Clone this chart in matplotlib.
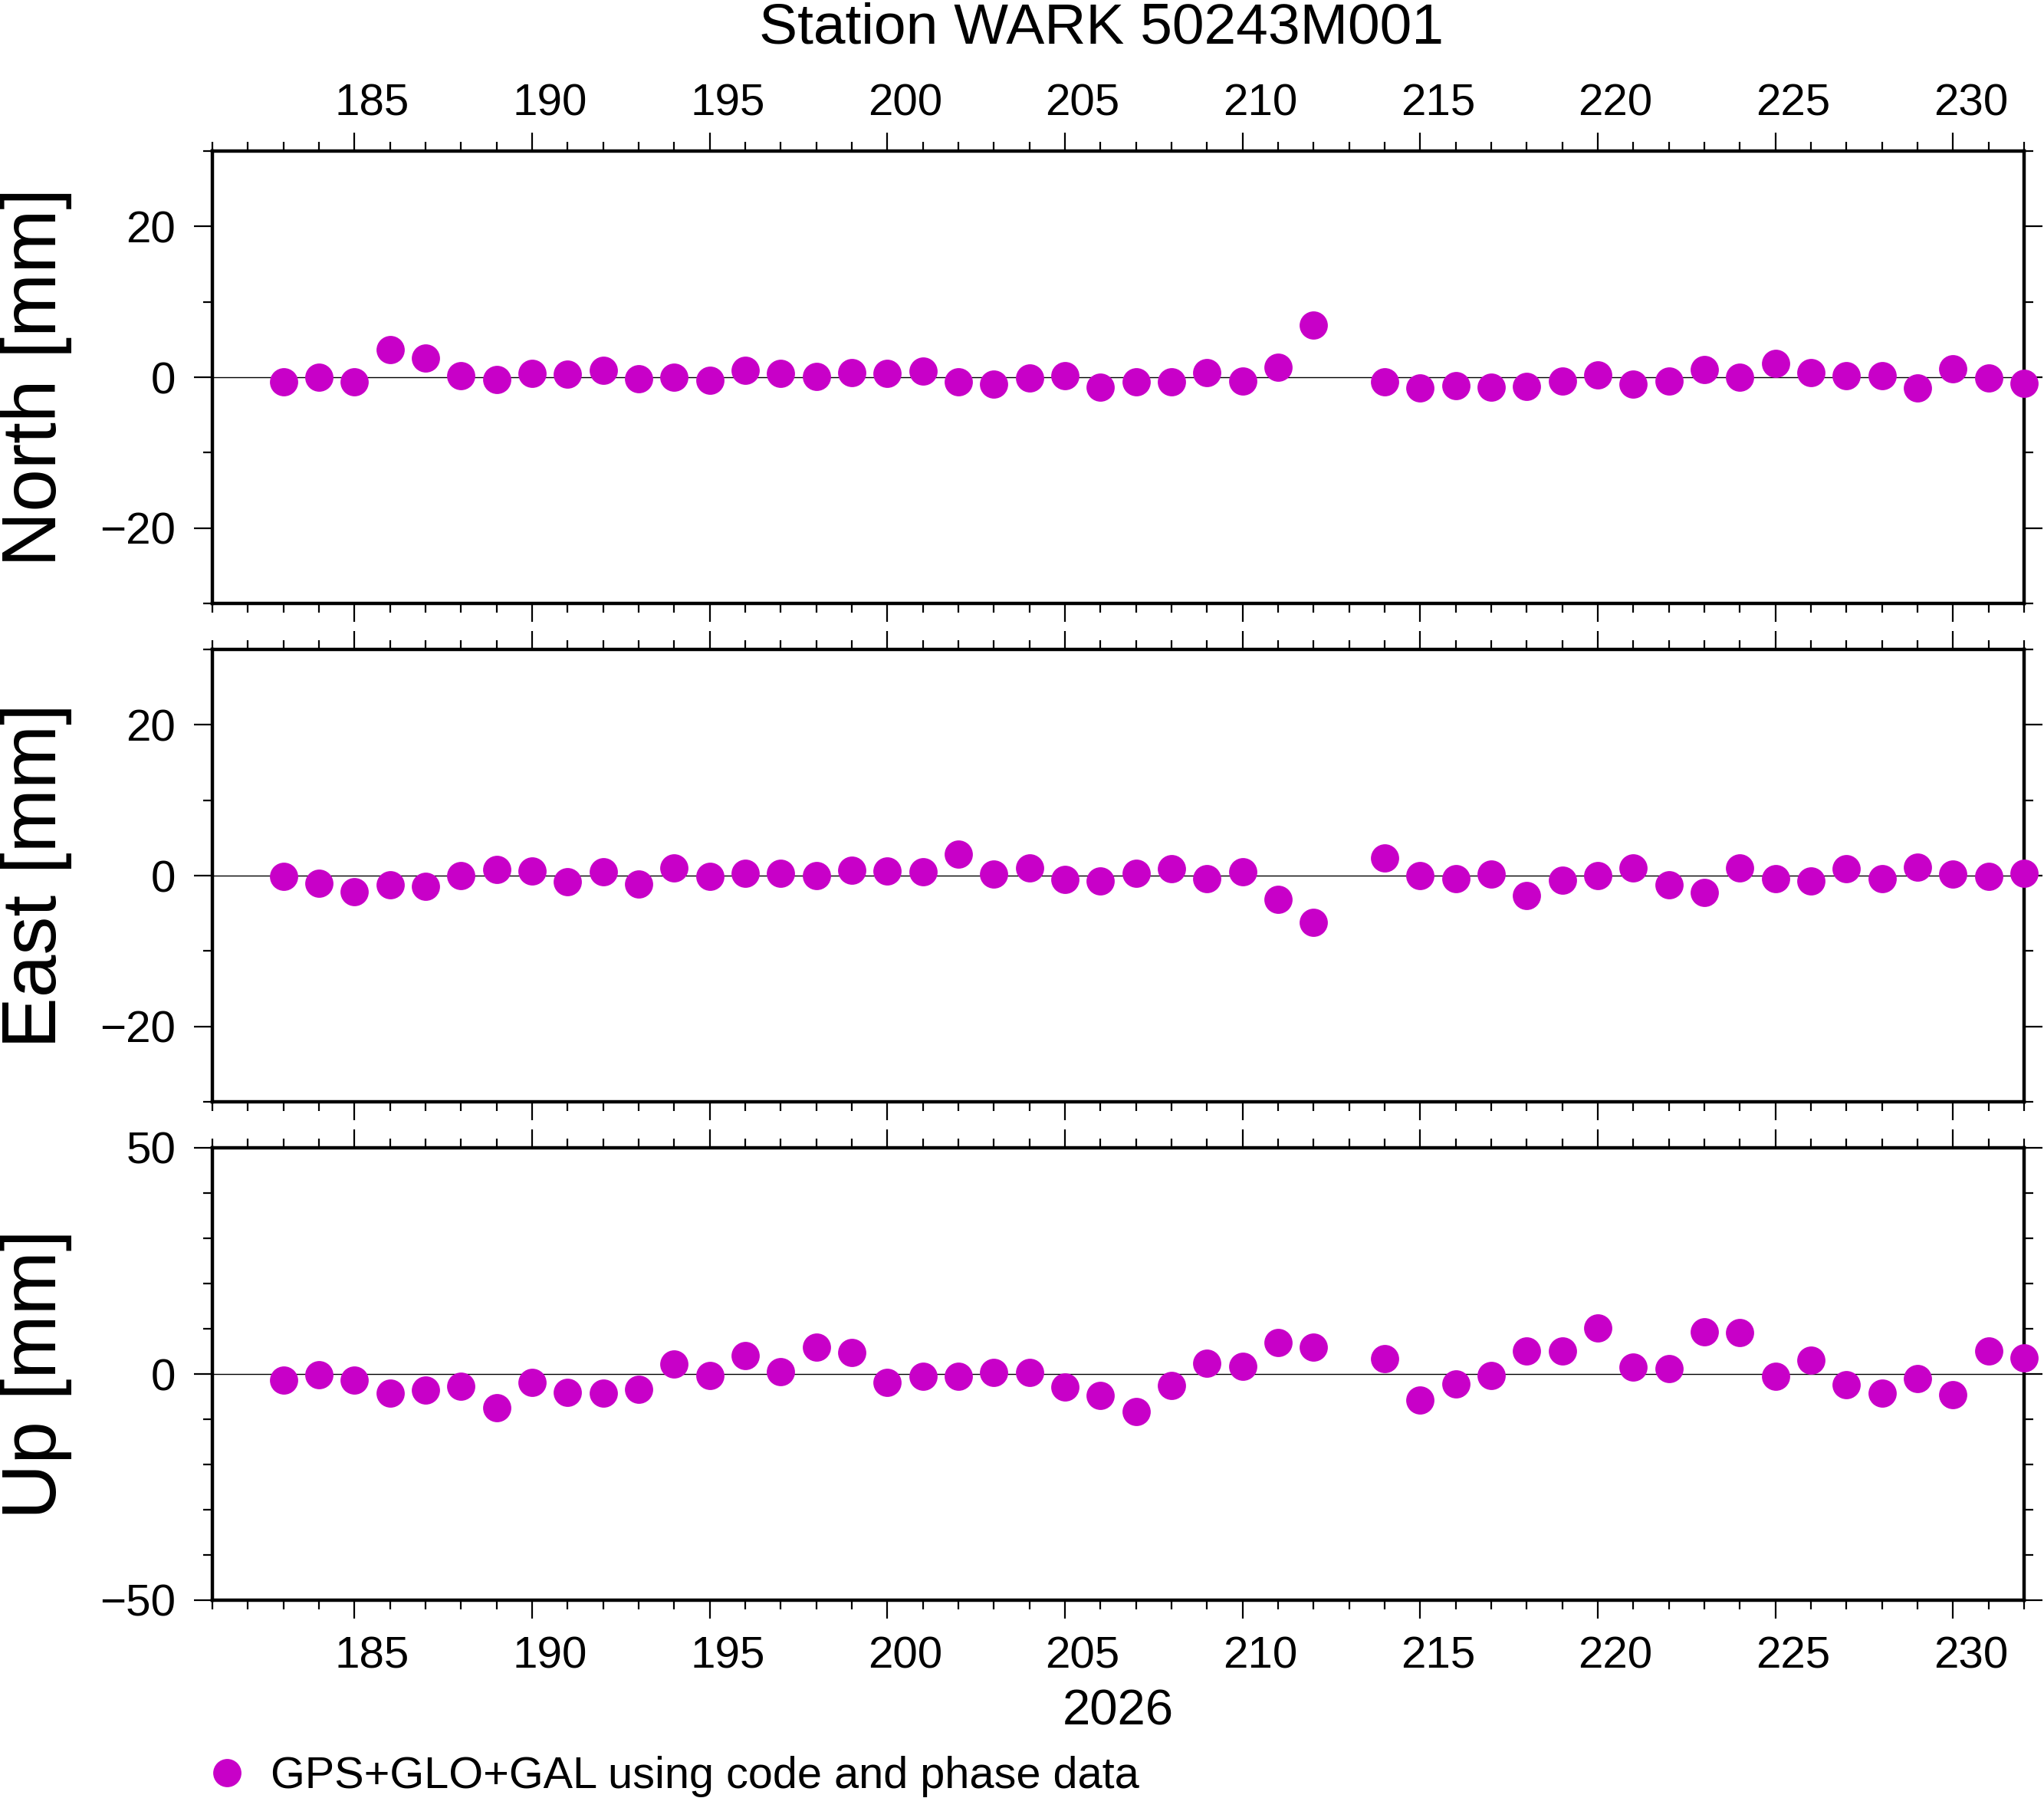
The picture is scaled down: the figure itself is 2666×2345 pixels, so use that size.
import matplotlib
matplotlib.use("Agg")
import matplotlib.pyplot as plt
from matplotlib.ticker import MultipleLocator
from matplotlib.transforms import ScaledTranslation

plt.rcParams['font.family'] = ['Liberation Sans', 'DejaVu Sans']

# day of year 2026 (day 213 missing)
doy = [183, 184, 185, 186, 187, 188, 189, 190, 191, 192,
       193, 194, 195, 196, 197, 198, 199, 200, 201, 202,
       203, 204, 205, 206, 207, 208, 209, 210, 211, 212,
       214, 215, 216, 217, 218, 219, 220, 221, 222, 223,
       224, 225, 226, 227, 228, 229, 230, 231, 232]

north = [-0.6, 0.0, -0.6, 3.7, 2.5, 0.2, -0.3, 0.5, 0.4, 0.9,
         -0.2, 0.0, -0.4, 0.9, 0.5, 0.1, 0.6, 0.5, 0.8, -0.6,
         -0.9, -0.1, 0.2, -1.3, -0.6, -0.6, 0.6, -0.5, 1.3, 6.9,
         -0.6, -1.4, -1.1, -1.3, -1.2, -0.5, 0.3, -0.9, -0.5, 1.0,
         0.0, 1.8, 0.6, 0.2, 0.2, -1.4, 1.1, -0.1, -0.8]

east = [-0.1, -1.0, -2.1, -1.2, -1.4, 0.0, 0.8, 0.6, -0.8, 0.5,
        -1.1, 1.0, -0.1, 0.3, 0.3, 0.0, 0.7, 0.6, 0.5, 2.8,
        0.2, 1.0, -0.5, -0.7, 0.3, 0.9, -0.4, 0.5, -3.2, -6.2,
        2.3, 0.0, -0.4, 0.2, -2.6, -0.6, 0.0, 1.0, -1.2, -2.2,
        1.0, -0.4, -0.7, 0.9, -0.4, 1.1, 0.2, -0.1, 0.3]

up = [-1.4, -0.2, -1.4, -4.2, -3.6, -2.7, -7.5, -1.9, -4.1, -4.2,
      -3.4, 2.2, -0.3, 4.1, 0.5, 5.9, 4.7, -1.9, -0.5, -0.5,
      0.3, 0.3, -2.9, -4.7, -8.3, -2.5, 2.4, 1.7, 6.9, 5.9,
      3.4, -5.8, -2.2, -0.3, 5.1, 5.1, 10.2, 1.5, 1.2, 9.3,
      9.2, -0.5, 3.1, -2.4, -4.2, -1.0, -4.6, 5.1, 3.6]

components = ["North [mm]", "East [mm]", "Up [mm]"]
ylimits = [30, 30, 50]
ymajor = [20, 20, 50]
title = "Station WARK 50243M001"
year_label = "2026"
legend_label = "GPS+GLO+GAL using code and phase data"

W, H = 2666, 2345
color = '#C800C8'

fig = plt.figure(figsize=(W / 100, H / 100), dpi=100)

left = 277 / W
width = (2640 - 277) / W
height = 590 / H
tops = [197, 847, 1497]

axes = []
for i, (comp, vals) in enumerate(zip(components, [north, east, up])):
    ax = fig.add_axes([left, 1 - (tops[i] + 590) / H, width, height])
    axes.append(ax)
    ax.set_xlim(181, 232)
    lim = ylimits[i]
    ax.set_ylim(-lim, lim)
    ax.axhline(0, color='black', lw=1.0, zorder=1)
    line, = ax.plot(doy, vals, 'o', color=color, ms=26.5, mew=0,
                    clip_on=False, zorder=3, label=legend_label)

    ax.xaxis.set_major_locator(MultipleLocator(5))
    ax.xaxis.set_minor_locator(MultipleLocator(1))
    ax.yaxis.set_major_locator(MultipleLocator(ymajor[i]))
    ax.yaxis.set_minor_locator(MultipleLocator(10))

    for s in ax.spines.values():
        s.set_linewidth(3.2)
    ax.tick_params(which='both', direction='out', width=1.6,
                   top=True, bottom=True, left=True, right=True,
                   labelsize=42)
    ax.tick_params(which='major', length=17.5)
    ax.tick_params(which='minor', length=8.5)
    ax.tick_params(axis='y', pad=17)
    ax.tick_params(axis='x', labeltop=(i == 0), labelbottom=(i == 2))
    if i == 0:
        ax.tick_params(axis='x', pad=7)
    else:
        ax.tick_params(axis='x', pad=16)

    ax.set_ylabel(comp, fontsize=72, va='baseline')
    ax.yaxis.set_label_coords((73 - 277) / (2640 - 277), 0.5)

# day labels sit in the middle of each day interval
shift = ScaledTranslation(0.5 * (2640 - 277) / 51 / 100, 0, fig.dpi_scale_trans)
for ax in (axes[0], axes[2]):
    for lab in ax.xaxis.get_majorticklabels():
        lab.set_transform(lab.get_transform() + shift)

axes[2].set_xlabel(year_label, fontsize=47, va='baseline')
axes[2].xaxis.set_label_coords(0.5, -(2250 - 2087) / 590)

fig.text(1436 / W, 1 - 56.5 / H, title, ha='center', va='baseline', fontsize=54)

fig.legend(handles=[line], loc='center left',
           bbox_to_anchor=(267 / W, 1 - 2317 / H), frameon=False,
           fontsize=41.5, borderpad=0, borderaxespad=0,
           handlelength=1.0, handletextpad=0.5)

fig.savefig('out.png', dpi=100)
